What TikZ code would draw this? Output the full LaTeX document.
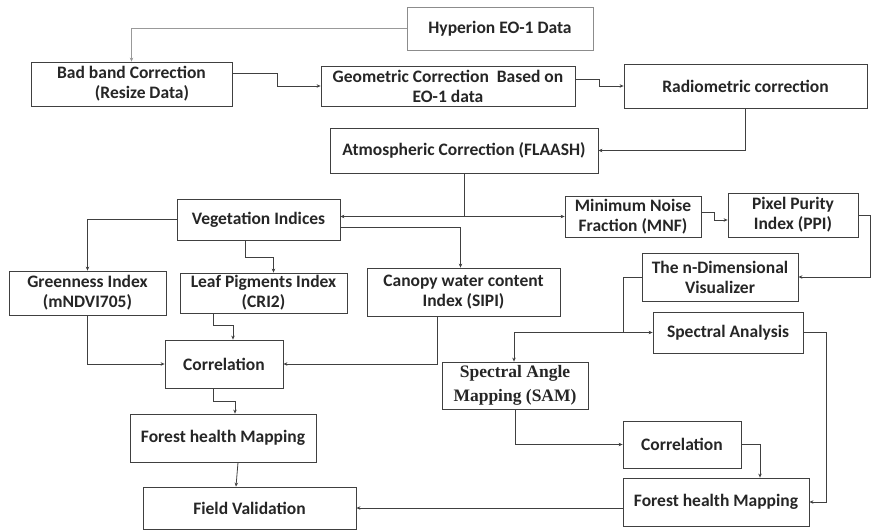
\documentclass[tikz,border=0pt]{standalone}
\usepackage{fontspec}
\setmainfont{Carlito}
\newfontfamily\serifbold{Liberation Serif}
\usetikzlibrary{arrows.meta}

\begin{document}
\begin{tikzpicture}[>={Stealth[length=4pt,width=3.5pt]}, x=1pt, y=-1pt,
		box/.style={draw=black!75, line width=.8pt, fill=white, align=center, inner sep=0pt,
			font=\fontsize{17.5}{20}\selectfont\bfseries, text=black!85},
		link/.style={->, draw=black!75, line width=.8pt}]
	\useasboundingbox (0,0) rectangle (872,530);
	% preprocessing chain
	\node[box, draw=black!45, minimum width=186pt, minimum height=43pt] (hyp) at (500,28.5) {Hyperion EO-1 Data};
	\node[box, minimum width=201pt, minimum height=44pt] (bad) at (131.5,84) {Bad band Correction\\\hspace*{1.2em}(Resize Data)};
	\node[box, minimum width=254pt, minimum height=40pt] (geo) at (448,86) {Geometric Correction\ \ Based on\\EO-1 data};
	\node[box, minimum width=243pt, minimum height=44pt] (rad) at (745.5,86) {Radiometric correction};
	\node[box, minimum width=268pt, minimum height=45pt] (atm) at (464,150.5) {Atmospheric Correction (FLAASH)};
	% vegetation indices branch
	\node[box, minimum width=163pt, minimum height=41pt] (veg) at (258.5,219.5) {Vegetation Indices};
	\node[box, minimum width=157pt, minimum height=44pt] (grn) at (87.5,293) {Greenness Index\\(mNDVI705)};
	\node[box, minimum width=167pt, minimum height=40pt] (leaf) at (263.5,293) {Leaf Pigments Index\\(CRI2)};
	\node[box, minimum width=193pt, minimum height=48pt] (can) at (463.5,292) {Canopy water content\\Index (SIPI)};
	\node[box, minimum width=118pt, minimum height=48pt] (corA) at (224,364) {Correlation};
	\node[box, minimum width=186pt, minimum height=48pt] (fhmA) at (223,438) {Forest health Mapping};
	\node[box, minimum width=213pt, minimum height=42pt] (fld) at (249.5,508) {Field Validation};
	% spectral branch
	\node[box, minimum width=136pt, minimum height=41pt] (mnf) at (633,216.5) {Minimum Noise\\Fraction (MNF)};
	\node[box, minimum width=130pt, minimum height=44pt] (ppi) at (793,215) {Pixel Purity\\Index (PPI)};
	\node[box, minimum width=156pt, minimum height=48pt] (ndv) at (720,277) {The n-Dimensional\\Visualizer};
	\node[box, minimum width=150pt, minimum height=41pt] (spa) at (728,332.5) {Spectral Analysis};
	\node[box, minimum width=146pt, minimum height=47pt, font=\fontsize{17.5}{24}\selectfont\serifbold\bfseries] (sam) at (515,385.5) {Spectral Angle\\Mapping (SAM)};
	\node[box, minimum width=118pt, minimum height=47pt] (corB) at (682,444.5) {Correlation};
	\node[box, minimum width=186pt, minimum height=48pt] (fhmB) at (716,502) {Forest health Mapping};

	\draw[link, draw=black!40] (hyp.west) -| (bad.north);
	\draw[link] ([yshift=11pt]bad.east) -- ++(45,0) |- (geo.west);
	\draw[link] ([yshift=7pt]geo.east) -- ++(24,0) |- (rad.west);
	\draw[link] (rad.south) |- (atm.east);
	\coordinate (split) at (atm.south |- mnf.west);
	\draw[line width=.8pt, draw=black!75] (atm.south) -- (split);
	\draw[link] (split) -- (split -| veg.east);
	\draw[link] (split) -- (mnf.west);
	\draw[link] ([yshift=-7.5pt]veg.east) -| ([xshift=-3pt]can.north);
	\draw[link] (veg.west) -| (grn.north);
	\draw[link] ([xshift=-13pt]veg.south) -- ++(0,17) -| ([xshift=10pt]leaf.north);
	\draw[link] ([xshift=-50pt]leaf.south) -- ++(0,12) -| ([xshift=9pt]corA.north);
	\draw[link] (grn.south) |- (corA.west);
	\draw[link] ([xshift=-26.5pt]can.south) |- (corA.east);
	\draw[link] ([xshift=-11pt]corA.south) -- ++(0,13) -| ([xshift=12pt]fhmA.north);
	\draw[link] ([xshift=15pt]fhmA.south) -- ([xshift=-13.5pt]fld.north);
	\draw[link] ([yshift=4.5pt]mnf.east) -- ++(13,0) |- ([yshift=-5pt]ppi.west);
	\draw[link] (ppi.east) -- ++(12,0) |- (ndv.east);
	\coordinate (fork) at ([xshift=-18pt]ndv.west |- spa.west);
	\draw[line width=.8pt, draw=black!75] (ndv.west) -| (fork);
	\draw[link] (fork) -- (spa.west);
	\draw[link] (fork) -| ([xshift=-1pt]sam.north);
	\draw[link] (spa.east) -- ++(23,0) |- (fhmB.east);
	\draw[link] (sam.south) |- (corB.west);
	\draw[link] (corB.east) -| ([xshift=44pt]fhmB.north);
	\draw[link] (fhmB.west |- fld.east) -- (fld.east);
\end{tikzpicture}
\end{document}
